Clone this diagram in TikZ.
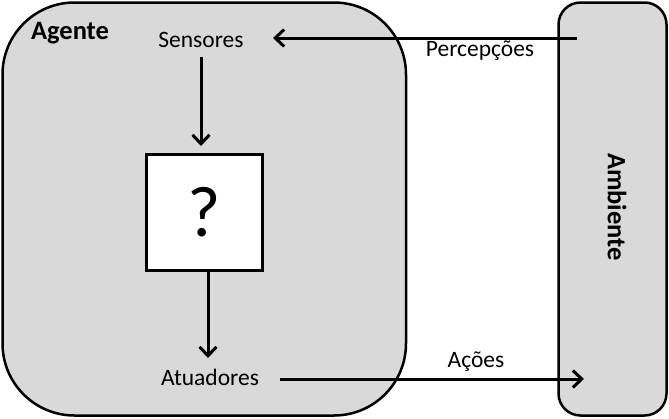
\documentclass[tikz,border=0pt]{standalone}
\usepackage{fontspec}
\setmainfont{Carlito}
\usetikzlibrary{arrows.meta}
\tikzset{
  box/.style={draw, line width=2.5pt, fill=black!15},
  lbl/.style={font=\fontsize{23.5}{27}\selectfont, inner sep=0pt},
  blbl/.style={font=\fontsize{26.5}{30}\selectfont\bfseries, inner sep=0pt},
  arr/.style={line width=3pt, -{Straight Barb[length=9pt,width=17pt,line width=3pt]}}
}
\begin{document}
\begin{tikzpicture}[x=1pt,y=-1pt]
\useasboundingbox (0,0) rectangle (669,418);
\draw[box, rounded corners=72pt] (2.5,2.5) rectangle (406,415.5);
\draw[box, rounded corners=22pt] (558.5,2.5) rectangle (666.5,415.5);
\node[blbl] (agente) at (70,33){Agente};
\node[blbl, rotate=-90] (ambiente) at (617,207){Ambiente};
\node[lbl] (sensores) at (201,40){Sensores};
\node[draw, line width=2.5pt, fill=white, minimum width=116pt, minimum height=116pt, inner sep=0pt, font=\fontsize{72}{80}\selectfont] (q) at (204.5,212.5){?};
\node[lbl] (atuadores) at (210,377){Atuadores};
\coordinate (s1) at (201,57);
\coordinate (s2) at (201,146);
\coordinate (t1) at (208,271);
\coordinate (t2) at (208,358);
\coordinate (pin) at (577,38);
\coordinate (pout) at (273,38);
\coordinate (ain) at (280,379);
\coordinate (aout) at (584,379);
\node[lbl] (percep) at (480,51){Percepções};
\node[lbl] (acoes) at (476,362){Ações};
\draw[arr] (s1) -- (s2);
\draw[arr] (t1) -- (t2);
\draw[arr] (pin) -- (pout);
\draw[arr] (ain) -- (aout);

\end{tikzpicture}
\end{document}
